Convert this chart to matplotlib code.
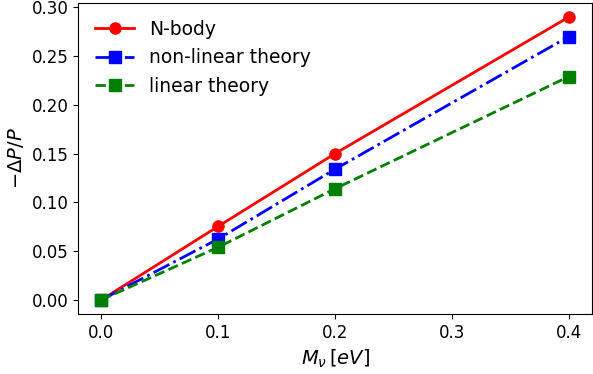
import numpy as np
import matplotlib
matplotlib.use("Agg")
import matplotlib.pyplot as plt

# neutrino mass [eV] and relative power suppression
m_nu = [0.0, 0.1, 0.2, 0.4]
nbody = [0.0, 0.0754, 0.150, 0.290]
nonlinear = [0.0, 0.0625, 0.134, 0.270]
linear = [0.0, 0.054, 0.114, 0.229]

fig = plt.figure(figsize=(5.93, 3.74), dpi=100)
ax = fig.add_axes([78/593, 60/374, 514/593, 311/374])

ax.plot(m_nu, nbody, "o-", color="red", ms=8, lw=2, label="N-body")
ax.plot(m_nu, nonlinear, "s-.", color="blue", ms=8, lw=2, label="non-linear theory")
ax.plot(m_nu, linear, "s--", color="green", ms=8, lw=2, label="linear theory")

ax.set_xlabel(r"$M_\nu\,[eV]$", fontsize=14)
ax.set_ylabel(r"$-\Delta P/P$", fontsize=14)
ax.set_xticks([0.0, 0.1, 0.2, 0.3, 0.4])
ax.tick_params(labelsize=12)
ax.legend(fontsize=13.5, frameon=False, loc="upper left", handlelength=2.1)

fig.savefig("out.png", dpi=100)
